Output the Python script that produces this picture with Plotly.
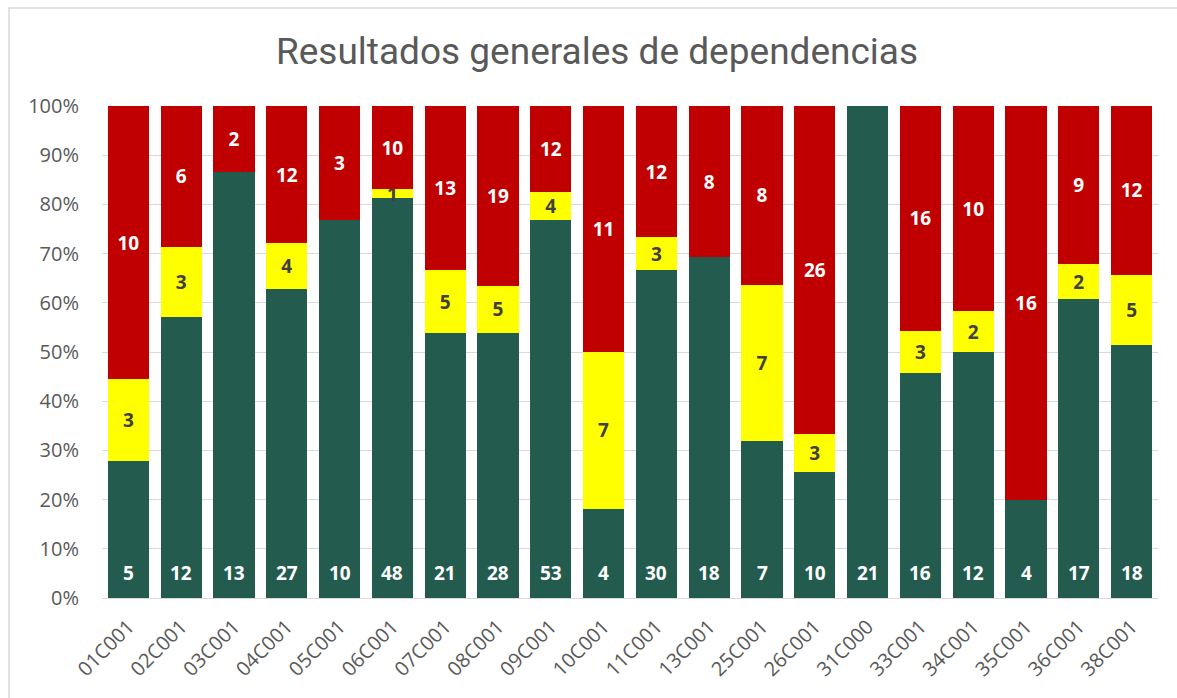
import plotly.graph_objects as go

categories = ["01C001","02C001","03C001","04C001","05C001","06C001","07C001","08C001","09C001","10C001",
              "11C001","13C001","25C001","26C001","31C000","33C001","34C001","35C001","36C001","38C001"]
green = [5,12,13,27,10,48,21,28,53,4,30,18,7,10,21,16,12,4,17,18]
yellow = [3,3,0,4,0,1,5,5,4,7,3,0,7,3,0,3,2,0,2,5]
red = [10,6,2,12,3,10,13,19,12,11,12,8,8,26,0,16,10,16,9,12]
yticks = [0,10,20,30,40,50,60,70,80,90,100]
ytick_labels = [f"{v}%" for v in yticks]

W, H = 1177, 698
L, R, T, B = 102, 19, 106, 100
LABEL_FONT = "Open Sans"
LABEL_SIZE = 19

def txt(vals):
    return [str(v) if v else "" for v in vals]

fig = go.Figure()
fig.add_bar(x=categories, y=green, name="green", marker_color="#235B4E")
fig.add_bar(x=categories, y=yellow, name="yellow", marker_color="#FFFF00",
            text=txt(yellow), textposition="inside", insidetextanchor="middle",
            textfont=dict(family=LABEL_FONT, size=LABEL_SIZE, color="#404040"), textangle=0)
fig.add_bar(x=categories, y=red, name="red", marker_color="#C00000",
            text=txt(red), textposition="inside", insidetextanchor="middle",
            textfont=dict(family=LABEL_FONT, size=LABEL_SIZE, color="white"), textangle=0)

fig.update_traces(marker_line_width=0, hoverinfo="skip")
fig.update_traces(texttemplate="<b>%{text}</b>", selector=dict(name="yellow"))
fig.update_traces(texttemplate="<b>%{text}</b>", selector=dict(name="red"))

# green labels at inside base
annotations = [dict(x=c, y=0, xref="x", yref="y", text=f"<b>{g}</b>", showarrow=False,
                    yanchor="middle", yshift=25,
                    font=dict(family=LABEL_FONT, size=LABEL_SIZE, color="white"))
               for c, g in zip(categories, green)]

pw = W - L - R
ph = H - T - B
fig.update_layout(
    width=W, height=H,
    barmode="stack", barnorm="percent", bargap=0.223,
    showlegend=False,
    plot_bgcolor="white", paper_bgcolor="white",
    margin=dict(l=L, r=R, t=T, b=B, autoexpand=False),
    title=dict(text="Resultados generales de dependencias", x=597 / W, xanchor="center",
               xref="container",
               y=1 - 51 / H, yanchor="middle",
               font=dict(family="Roboto", size=37, color="#595959")),
    uniformtext=dict(minsize=LABEL_SIZE, mode="show"),
    annotations=annotations,
    xaxis=dict(tickangle=-45, tickfont=dict(family="Open Sans", size=20, color="#595959"),
               showline=True, linecolor="#D9D9D9", linewidth=1, ticks="",
               ticklabelstandoff=8),
    yaxis=dict(range=[0, 100], tickvals=yticks, ticktext=ytick_labels,
               tickfont=dict(family="Open Sans", size=20, color="#595959"),
               showgrid=True, gridcolor="#D9D9D9", gridwidth=1, zeroline=False,
               ticks="", ticklabelstandoff=22),
    shapes=[dict(type="rect", xref="paper", yref="paper",
                 x0=(9 - L) / pw, x1=(W + 5 - L) / pw,
                 y0=(H - B - (H + 5)) / ph, y1=(H - B - 8) / ph,
                 line=dict(color="#D9D9D9", width=1.5), layer="below")],
)
fig.write_html("out.html", config={"displayModeBar": False},
               post_script="document.body.style.margin='0';document.body.style.overflow='hidden';")
